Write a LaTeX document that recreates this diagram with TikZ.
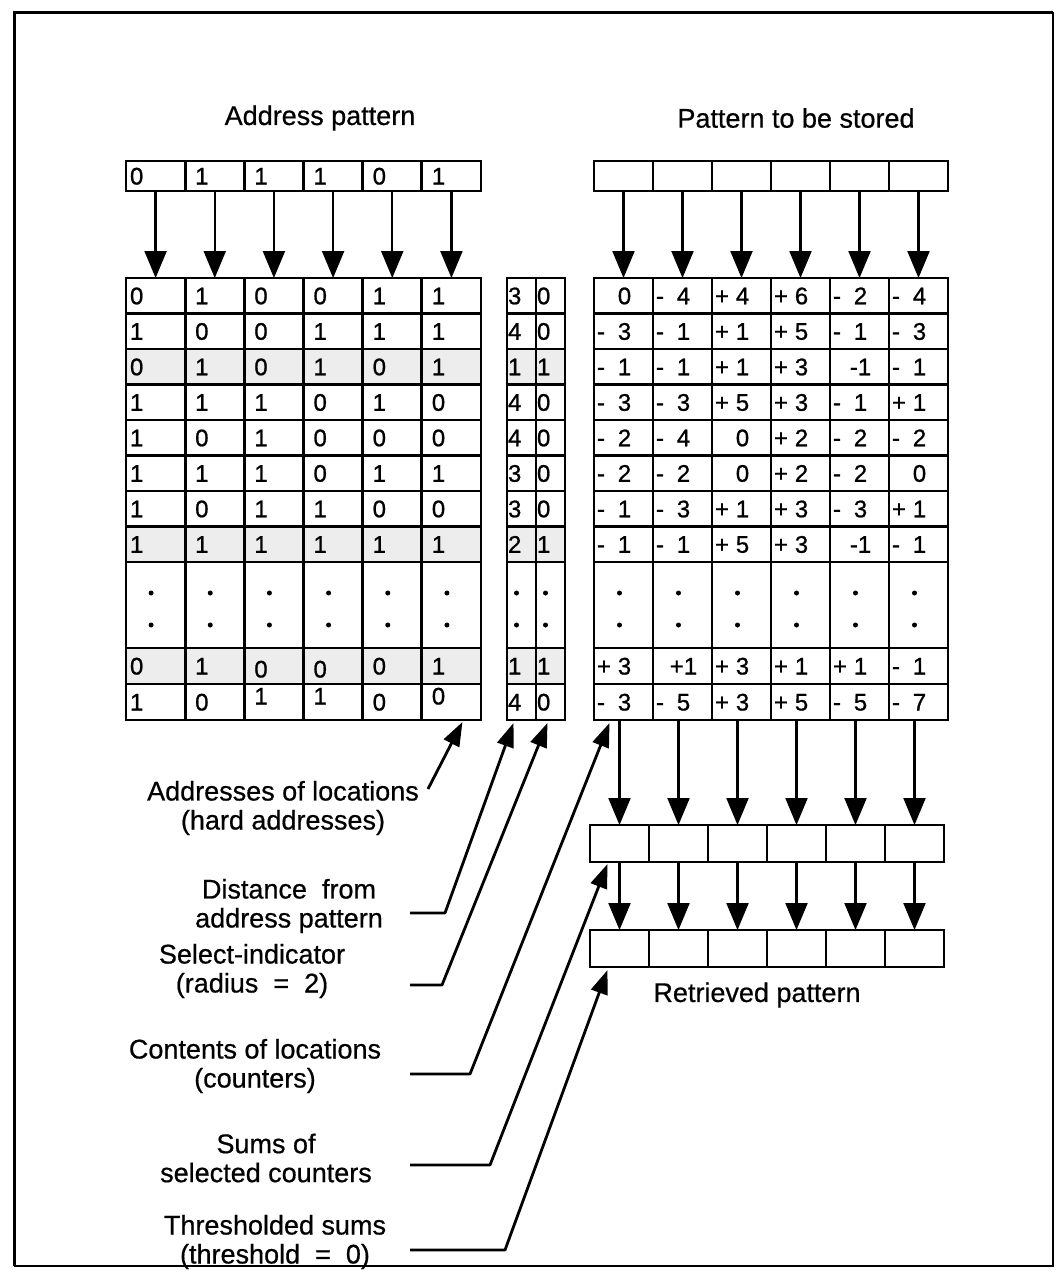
\documentclass[tikz,border=0pt]{standalone}
\usepackage{fontspec}
\setmainfont{Liberation Sans}[FakeBold=0.6]
\newfontfamily\digfont{Liberation Sans}[FakeBold=0.9]
\usetikzlibrary{arrows.meta,calc}
\tikzset{
  lcell/.style={draw,line width=2.8pt,inner sep=0pt,outer sep=0pt,minimum width=59.17pt},
  rcell/.style={draw,line width=2.8pt,inner sep=0pt,outer sep=0pt,minimum width=59pt},
  dcell/.style={draw,line width=2.8pt,inner sep=0pt,outer sep=0pt,minimum width=29pt},
  dig/.style={font=\digfont\fontsize{24}{26}\selectfont,inner sep=0pt,outer sep=0pt,text height=17pt,text depth=0pt},
  lab/.style={font=\fontsize{27}{29}\selectfont,align=center,inner sep=0pt},
  arr/.style={line width=2.2pt,-{Triangle[length=27pt,width=22pt]}},
  ptr/.style={line width=2.8pt,line join=round,-{Triangle[length=24pt,width=17pt]}},
}
\newcommand\myLrow[5]{%
  \foreach \d/\o [count=\c] in {#5} {%
    \pgfmathsetmacro\xo{ifthenelse(\c==1,4,10)}%
    \node[lcell,minimum height=#3,fill=#4] (L-#1-\c) at ({126+59.17*(\c-0.5)},#2) {};
    \node[dig,anchor=west] at ($(L-#1-\c.west)+(\xo,\o)$) {\d};
  }}
\newcommand\myDrow[5]{%
  \foreach \d [count=\c] in {#5} {%
    \node[dcell,minimum height=#3,fill=#4] (D-#1-\c) at ({507+29*(\c-0.5)},#2) {};
    \node[dig,anchor=west] at ($(D-#1-\c.west)+(1,0)$) {\d};
  }}
\newcommand\myRrow[4]{%
  \foreach \s/\d [count=\c] in {#4} {%
    \node[rcell,minimum height=#3] (R-#1-\c) at ({594+59*(\c-0.5)},#2) {};
    \node[dig,anchor=west] at ($(R-#1-\c.west)+(3,0)$) {\s};
    \node[dig] at ($(R-#1-\c.center)+(1,0)$) {\d};
  }}
\begin{document}
\begin{tikzpicture}[x=1pt,y=-1pt]
\useasboundingbox (0,0) rectangle (1056,1278);
% frame
\draw[line width=3pt] (14,1266) -- (14,12) -- (1053,12);
\draw[line width=1.2pt] (1053,12) -- (1053,1266) -- (14,1266);

% titles
\node[lab] (labAP) at (320,118) {Address pattern};
\node[lab] (labPS) at (796,118) {Pattern to be stored};

% left table (hard addresses)
\myLrow{1}{295.75}{35.5pt}{white}{0/0,1/0,0/0,0/0,1/0,1/0}
\myLrow{2}{331.25}{35.5pt}{white}{1/0,0/0,0/0,1/0,1/0,1/0}
\myLrow{3}{366.75}{35.5pt}{black!7}{0/0,1/0,0/0,1/0,0/0,1/0}
\myLrow{4}{402.25}{35.5pt}{white}{1/0,1/0,1/0,0/0,1/0,0/0}
\myLrow{5}{437.75}{35.5pt}{white}{1/0,0/0,1/0,0/0,0/0,0/0}
\myLrow{6}{473.25}{35.5pt}{white}{1/0,1/0,1/0,0/0,1/0,1/0}
\myLrow{7}{508.75}{35.5pt}{white}{1/0,0/0,1/0,1/0,0/0,0/0}
\myLrow{8}{544.25}{35.5pt}{black!7}{1/0,1/0,1/0,1/0,1/0,1/0}
\myLrow{9}{666}{36pt}{black!7}{0/0,1/0,0/3,0/3,0/0,1/0}
\myLrow{10}{702}{36pt}{white}{1/0,0/0,1/-6,1/-6,0/0,0/-6}

% distance / select columns
\myDrow{1}{295.75}{35.5pt}{white}{3,0}
\myDrow{2}{331.25}{35.5pt}{white}{4,0}
\myDrow{3}{366.75}{35.5pt}{black!7}{1,1}
\myDrow{4}{402.25}{35.5pt}{white}{4,0}
\myDrow{5}{437.75}{35.5pt}{white}{4,0}
\myDrow{6}{473.25}{35.5pt}{white}{3,0}
\myDrow{7}{508.75}{35.5pt}{white}{3,0}
\myDrow{8}{544.25}{35.5pt}{black!7}{2,1}
\myDrow{9}{666}{36pt}{black!7}{1,1}
\myDrow{10}{702}{36pt}{white}{4,0}

% counters
\myRrow{1}{295.75}{35.5pt}{{}/0,-/4,+/4,+/6,-/2,-/4}
\myRrow{2}{331.25}{35.5pt}{-/3,-/1,+/1,+/5,-/1,-/3}
\myRrow{3}{366.75}{35.5pt}{-/1,-/1,+/1,+/3,{}/{-1},-/1}
\myRrow{4}{402.25}{35.5pt}{-/3,-/3,+/5,+/3,-/1,+/1}
\myRrow{5}{437.75}{35.5pt}{-/2,-/4,{}/0,+/2,-/2,-/2}
\myRrow{6}{473.25}{35.5pt}{-/2,-/2,{}/0,+/2,-/2,{}/0}
\myRrow{7}{508.75}{35.5pt}{-/1,-/3,+/1,+/3,-/3,+/1}
\myRrow{8}{544.25}{35.5pt}{-/1,-/1,+/5,+/3,{}/{-1},-/1}
\myRrow{9}{666}{36pt}{+/3,{}/{+1},+/3,+/1,+/1,-/1}
\myRrow{10}{702}{36pt}{-/3,-/5,+/3,+/5,-/5,-/7}

% dotted (elided) rows
\foreach \c in {1,...,6} {
  \node[lcell,minimum height=86pt] (L-d-\c) at ({126+59.17*(\c-0.5)},605) {};
  \fill ($(L-d-\c.center)+(-4.5,-12)$) circle[radius=2.5pt];
  \fill ($(L-d-\c.center)+(-4.5,20)$) circle[radius=2.5pt];
  \node[rcell,minimum height=86pt] (R-d-\c) at ({594+59*(\c-0.5)},605) {};
  \fill ($(R-d-\c.center)+(-4,-12)$) circle[radius=2.5pt];
  \fill ($(R-d-\c.center)+(-4,20)$) circle[radius=2.5pt];
}
\foreach \c in {1,2} {
  \node[dcell,minimum height=86pt] (D-d-\c) at ({507+29*(\c-0.5)},605) {};
  \fill ($(D-d-\c.center)+(-5,-12)$) circle[radius=2.5pt];
  \fill ($(D-d-\c.center)+(-5,20)$) circle[radius=2.5pt];
}

% address pattern register
\foreach \d [count=\c] in {0,1,1,1,0,1} {
  \pgfmathsetmacro\xo{ifthenelse(\c==1,4,10)}
  \node[lcell,minimum height=30pt] (A-\c) at ({126+59.17*(\c-0.5)},176) {};
  \node[dig,anchor=west] at ($(A-\c.west)+(\xo,0)$) {\d};
  \draw[arr] (A-\c) -- (L-1-\c);
}
% pattern to be stored register
\foreach \c in {1,...,6} {
  \node[rcell,minimum height=30pt] (P-\c) at ({594+59*(\c-0.5)},176) {};
  \draw[arr] (P-\c) -- (R-1-\c);
}
% sums and thresholded registers
\foreach \c in {1,...,6} {
  \node[rcell,minimum height=37pt] (S-\c) at ({590+59*(\c-0.5)},843.5) {};
  \node[rcell,minimum height=37pt] (T-\c) at ({590+59*(\c-0.5)},948.5) {};
  \draw[arr] (R-10-\c.south -| S-\c.north) -- (S-\c.north);
  \draw[arr] (S-\c) -- (T-\c);
}
\node[lab] (labRP) at (757,995) {Retrieved pattern};

% explanatory labels
\node[lab] (labAddr) at (283,808) {Addresses of locations\\(hard addresses)};
\node[lab] (labDist) at (289,906) {Distance \ from\\address pattern};
\node[lab] (labSel)  at (252,971) {Select-indicator\\(radius \ = \ 2)};
\node[lab] (labCont) at (255,1066) {Contents of locations\\(counters)};
\node[lab] (labSums) at (266,1158) {Sums of\\selected counters};
\node[lab] (labThr)  at (275,1242) {Thresholded sums\\(threshold \ = \ 0)};

% leader coordinates
\coordinate (aTail) at (428,789);
\coordinate (aTip) at ($(L-10-6.south)+(11,2)$);
\coordinate (dStart) at (410,913);  \coordinate (dBend) at (445,913);
\coordinate (dTip) at ($(D-10-1.south)+(-8,3)$);
\coordinate (sStart) at (410,985);  \coordinate (sBend) at (442,985);
\coordinate (sTip) at ($(D-10-2.south)+(-3,3)$);
\coordinate (cStart) at (410,1074); \coordinate (cBend) at (470,1074);
\coordinate (cTip) at ($(R-10-1.south)+(-14,3)$);
\coordinate (uStart) at (410,1165); \coordinate (uBend) at (490,1165);
\coordinate (uTip) at ($(S-1.south)+(-12,2)$);
\coordinate (tStart) at (410,1250); \coordinate (tBend) at (505,1250);
\coordinate (tTip) at ($(T-1.south)+(-12,3)$);

\draw[ptr] (aTail) -- (aTip);
\draw[ptr] (dStart) -- (dBend) -- (dTip);
\draw[ptr] (sStart) -- (sBend) -- (sTip);
\draw[ptr] (cStart) -- (cBend) -- (cTip);
\draw[ptr] (uStart) -- (uBend) -- (uTip);
\draw[ptr] (tStart) -- (tBend) -- (tTip);
\end{tikzpicture}
\end{document}
